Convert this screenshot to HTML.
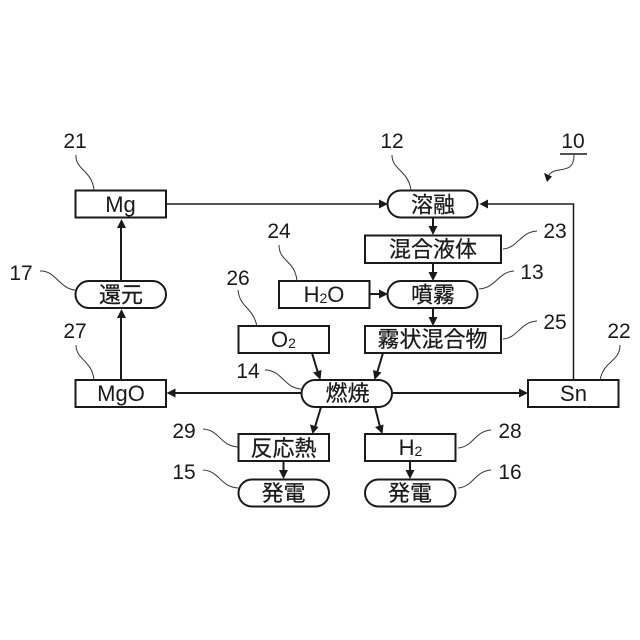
<!DOCTYPE html>
<html>
<head>
<meta charset="utf-8">
<style>
html,body{margin:0;padding:0;background:#fff;width:640px;height:640px;overflow:hidden}
svg{display:block}
text{font-family:"Liberation Sans","Noto Sans CJK JP",sans-serif;fill:#1a1a1a}
.n{font-size:21px;text-anchor:middle}
.t{font-size:22px;text-anchor:middle}
.j{font-size:22px;text-anchor:middle;stroke:#1a1a1a;stroke-width:.25}
.s{font-size:14px}
.b{fill:#fff;stroke:#1a1a1a;stroke-width:2}
.l{fill:none;stroke:#1a1a1a;stroke-width:1.5}
.w{fill:none;stroke:#1a1a1a;stroke-width:2}
.c{fill:none;stroke:#333;stroke-width:1}
.a{fill:#1a1a1a;stroke:none}
</style>
</head>
<body>
<svg width="640" height="640" viewBox="0 0 640 640" xmlns="http://www.w3.org/2000/svg">
<!-- connectors -->
<path class="l" d="M166 204H380"/>
<path class="a" d="M388 204l-9-4.500v9z"/>
<path class="l" d="M573.500 380V204H486"/>
<path class="a" d="M479.500 204l8.500-4.500v9z"/>
<path class="w" d="M121 281V226"/>
<path class="a" d="M121.500 219l-4.500 9h9z"/>
<path class="w" d="M121 380V316"/>
<path class="a" d="M121.500 309l-4.500 9h9z"/>
<path class="w" d="M433 217V228"/>
<path class="a" d="M433 235l-4.500-9h9z"/>
<path class="w" d="M433 263V274"/>
<path class="a" d="M433 281l-4.500-9h9z"/>
<path class="w" d="M433 308V319"/>
<path class="a" d="M433 326l-4.500-9h9z"/>
<path class="w" d="M370 294H381"/>
<path class="a" d="M388 294l-9-4.500v9z"/>
<path class="w" d="M312 353L318 373"/>
<path class="a" d="M320.500 380l-7.500-7.500 8.500-2.500z"/>
<path class="w" d="M383 353L377 373"/>
<path class="a" d="M374.500 380l-1.500-10 8.500 2.500z"/>
<path class="w" d="M301 393H174"/>
<path class="a" d="M166.500 393l9-4.500v9z"/>
<path class="w" d="M392 393H520"/>
<path class="a" d="M528 393l-9-4.500v9z"/>
<path class="w" d="M321 407L315 427"/>
<path class="a" d="M312.500 434l-2.500-9.500 8.500 2.500z"/>
<path class="w" d="M375 407L380 427"/>
<path class="a" d="M382.500 434l-7.500-7 8.500-2.500z"/>
<path class="w" d="M283.500 461V472"/>
<path class="a" d="M283.500 479l-4.500-9h9z"/>
<path class="w" d="M410 461V472"/>
<path class="a" d="M410 479l-4.500-9h9z"/>
<!-- boxes -->
<rect class="b" x="75.500" y="190.500" width="90.500" height="27"/>
<rect class="b" x="75.500" y="281" width="90.500" height="27" rx="13.500"/>
<rect class="b" x="75.500" y="380" width="90.500" height="27"/>
<rect class="b" x="387.500" y="190.500" width="90" height="27" rx="13.500"/>
<rect class="b" x="365" y="235.500" width="136" height="27.500"/>
<rect class="b" x="387.500" y="281" width="90" height="27" rx="13.500"/>
<rect class="b" x="279" y="281" width="90.500" height="27"/>
<rect class="b" x="238.500" y="326" width="90.500" height="27"/>
<rect class="b" x="365" y="326" width="136" height="27"/>
<rect class="b" x="301.500" y="380" width="90.500" height="27" rx="13.500"/>
<rect class="b" x="528" y="380" width="90.500" height="27"/>
<rect class="b" x="238.500" y="434" width="90.500" height="27"/>
<rect class="b" x="365" y="434" width="90.500" height="27"/>
<rect class="b" x="238.500" y="479.500" width="90.500" height="27" rx="13.500"/>
<rect class="b" x="365" y="479.500" width="90.500" height="27" rx="13.500"/>
<!-- box labels -->
<text class="t" x="120.500" y="212">Mg</text>
<text class="j" x="121" y="302.500">還元</text>
<text class="t" x="121" y="401">MgO</text>
<text class="j" x="433" y="212.500">溶融</text>
<text class="j" x="433" y="257">混合液体</text>
<text class="j" x="433" y="302.500">噴霧</text>
<text x="324" y="302" class="t">H<tspan class="s" dy="1">2</tspan><tspan dy="-1">O</tspan></text>
<text x="283.500" y="347" class="t">O<tspan class="s" dy="1">2</tspan></text>
<text class="j" x="432.500" y="347">霧状混合物</text>
<text class="j" x="347.500" y="401">燃焼</text>
<text class="t" x="573.500" y="401">Sn</text>
<text class="j" x="283.500" y="456">反応熱</text>
<text x="410.500" y="455" class="t">H<tspan class="s" dy="1">2</tspan></text>
<text class="j" x="283.500" y="501">発電</text>
<text class="j" x="410" y="501">発電</text>
<!-- reference numerals -->
<text class="n" x="75" y="148">21</text>
<text class="n" x="392" y="148">12</text>
<text class="n" x="573" y="148">10</text>
<text class="n" x="279" y="238">24</text>
<text class="n" x="555" y="238">23</text>
<text class="n" x="21" y="280">17</text>
<text class="n" x="532" y="279">13</text>
<text class="n" x="238" y="285">26</text>
<text class="n" x="75" y="338">27</text>
<text class="n" x="555" y="329">25</text>
<text class="n" x="619" y="338">22</text>
<text class="n" x="248" y="378">14</text>
<text class="n" x="184" y="438">29</text>
<text class="n" x="510" y="438">28</text>
<text class="n" x="184" y="479">15</text>
<text class="n" x="510" y="479">16</text>
<!-- leader lines -->
<path class="c" d="M76 155C75 170 92 170 94 190"/>
<path class="c" d="M392 155C392 170 408 170 411 190"/>
<path class="c" d="M279 245C279 262 295 260 297 281"/>
<path class="c" d="M238 290C240 308 252 306 257 326"/>
<path class="c" d="M40 271C55 270 60 289 75 290"/>
<path class="c" d="M76 345C76 360 92 360 94 380"/>
<path class="c" d="M265 370C282 370 284 388 301 389"/>
<path class="c" d="M203 429C220 430 220 446 238 447"/>
<path class="c" d="M203 470C220 471 220 487 238 488"/>
<path class="c" d="M537 231C520 232 518 248 503 249"/>
<path class="c" d="M514 271C498 272 496 288 479 289"/>
<path class="c" d="M537 321C520 322 518 338 503 339"/>
<path class="c" d="M620 345C620 362 604 360 600 380"/>
<path class="c" d="M491 430C475 431 473 447 458 448"/>
<path class="c" d="M491 470C475 471 473 487 458 488"/>
<path class="l" d="M560 154H587"/>
<path class="c" d="M574 155C574 176 556 165 549 175"/>
<path class="a" d="M547 182l-3-9 8 3.500z"/>
</svg>
</body>
</html>
